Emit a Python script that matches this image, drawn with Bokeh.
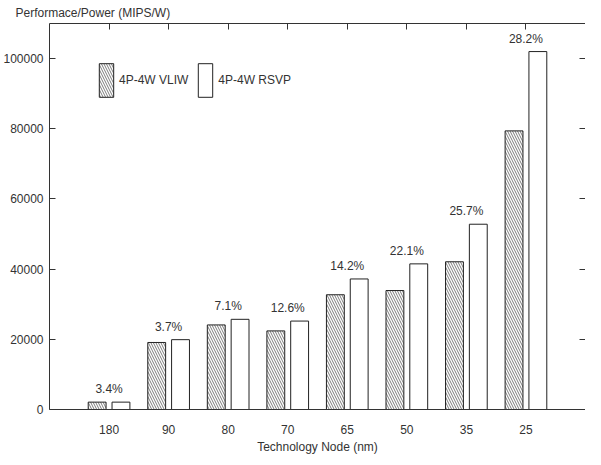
from bokeh.plotting import figure
from bokeh.models import (ColumnDataSource, FactorRange, CategoricalAxis, LinearAxis,
                          SingleIntervalTicker, NumeralTickFormatter, Legend, LegendItem, Range1d)
from bokeh.transform import dodge
from bokeh.core.properties import value
from bokeh.embed import file_html
from bokeh.resources import INLINE

# ---- data ----
nodes = ["180", "90", "80", "70", "65", "50", "35", "25"]
vliw = [2100, 19100, 24100, 22400, 32700, 33900, 42100, 79400]
rsvp = [2100, 19900, 25700, 25200, 37200, 41500, 52800, 102000]
gains = ["3.4%", "3.7%", "7.1%", "12.6%", "14.2%", "22.1%", "25.7%", "28.2%"]
y_ticks_step = 20000
y_max = 110000

FONT = "Liberation Sans"
INK = "#333333"

src = ColumnDataSource(dict(node=nodes, vliw=vliw, rsvp=rsvp, gain=gains,
                            top=[max(a, b) for a, b in zip(vliw, rsvp)]))

xr = FactorRange(*nodes, range_padding=0.5, range_padding_units="absolute")
p = figure(x_range=xr, y_range=Range1d(0, y_max), width=585, height=456,
           output_backend="svg", toolbar_location=None,
           min_border_left=0, min_border_right=0, min_border_top=0, min_border_bottom=0,
           title="Performace/Power (MIPS/W)")
p.background_fill_color = "white"
p.border_fill_color = "white"
p.outline_line_color = None
p.xgrid.visible = False
p.ygrid.visible = False

p.title.text_font = FONT
p.title.text_font_size = "12px"
p.title.text_font_style = "normal"
p.title.text_color = INK
p.title.align = "left"
p.title.offset = -35
p.title.padding = 1
p.title.standoff = 5

r1 = p.vbar(x=dodge("node", -0.2, range=p.x_range), top="vliw", width=0.3, source=src,
            fill_color="white", line_color="#222222", line_width=1,
            hatch_pattern="\\", hatch_color="#444444", hatch_weight=0.7, hatch_scale=5)
r2 = p.vbar(x=dodge("node", 0.2, range=p.x_range), top="rsvp", width=0.3, source=src,
            fill_color="white", line_color="#222222", line_width=1)

p.text(x="node", y="top", text="gain", source=src, text_align="center",
       text_baseline="bottom", y_offset=-6, text_font=value(FONT),
       text_font_size="12px", text_color=INK)

def style(ax):
    ax.axis_line_color = INK
    ax.axis_line_width = 1
    ax.major_tick_line_color = INK
    ax.major_tick_in = 6
    ax.major_tick_out = 0
    ax.minor_tick_line_color = None
    ax.major_label_text_font = FONT
    ax.major_label_text_font_size = "12px"
    ax.major_label_text_color = INK
    ax.major_label_text_line_height = 1.0

# left axis
yl = p.yaxis[0]
yl.ticker = SingleIntervalTicker(interval=y_ticks_step, num_minor_ticks=0)
yl.formatter = NumeralTickFormatter(format="0")
style(yl)
yl.major_label_standoff = 6

# bottom axis
xb = p.xaxis[0]
style(xb)
xb.major_tick_line_color = None
xb.major_label_standoff = 15
xb.axis_label = "Technology Node (nm)"
xb.axis_label_text_font = FONT
xb.axis_label_text_font_size = "12px"
xb.axis_label_text_font_style = "normal"
xb.axis_label_text_color = INK
xb.axis_label_text_line_height = 1.0
xb.axis_label_standoff = 3

# mirrored axes (tick marks only, no labels)
xt = CategoricalAxis()
style(xt)
xt.major_label_text_color = None
xt.major_label_text_font_size = "1px"
xt.major_label_standoff = 0
p.add_layout(xt, "above")

yr = LinearAxis(ticker=SingleIntervalTicker(interval=y_ticks_step, num_minor_ticks=0))
style(yr)
yr.major_label_text_color = None
yr.major_label_text_font_size = "1px"
yr.major_label_standoff = 0
p.add_layout(yr, "right")

legend = Legend(items=[LegendItem(label="4P-4W VLIW", renderers=[r1]),
                       LegendItem(label="4P-4W RSVP", renderers=[r2])],
                orientation="horizontal", location=(48, 308),
                glyph_width=18, glyph_height=42, label_standoff=4, spacing=8,
                padding=0, margin=0, border_line_color=None, background_fill_alpha=0,
                label_text_font=FONT, label_text_font_size="12px", label_text_color=INK)
p.add_layout(legend, "center")

open("out.html", "w").write(file_html(p, INLINE))
